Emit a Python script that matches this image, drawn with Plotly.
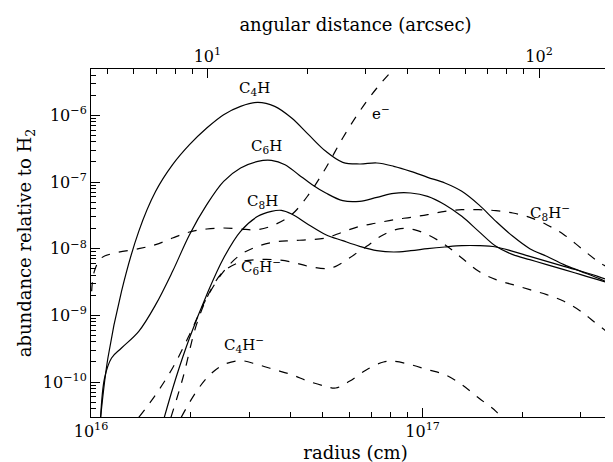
import plotly.graph_objects as go
import numpy as np

# log10 radius (cm) and log10 abundance
c4h_r = [16.029, 16.051, 16.092, 16.144, 16.195, 16.246, 16.297, 16.349, 16.400, 16.451, 16.503, 16.554,
         16.605, 16.656, 16.708, 16.759, 16.810, 16.862, 16.913, 16.964, 17.015, 17.067, 17.118, 17.169,
         17.221, 17.272, 17.323, 17.374, 17.426, 17.477, 17.528, 17.595]
c4h_a = [-10.53, -9.64, -8.64, -7.74, -7.14, -6.74, -6.44, -6.19, -5.99, -5.865, -5.805, -5.865,
         -6.04, -6.29, -6.54, -6.705, -6.73, -6.715, -6.765, -6.84, -6.93, -7.015, -7.14, -7.34,
         -7.59, -7.815, -8.0, -8.115, -8.24, -8.34, -8.44, -8.59]

c6h_r = [16.029, 16.041, 16.062, 16.092, 16.144, 16.195, 16.246, 16.297, 16.349, 16.400, 16.451, 16.503,
         16.544, 16.585, 16.626, 16.667, 16.708, 16.759, 16.810, 16.862, 16.913, 16.964, 17.015, 17.067,
         17.118, 17.169, 17.221, 17.272, 17.323, 17.374, 17.426, 17.477, 17.528, 17.595]
c6h_a = [-10.53, -9.94, -9.64, -9.49, -9.24, -8.84, -8.34, -7.79, -7.34, -6.99, -6.79, -6.69,
         -6.675, -6.74, -6.89, -7.04, -7.165, -7.28, -7.29, -7.23, -7.17, -7.165, -7.215, -7.34,
         -7.515, -7.74, -7.965, -8.09, -8.165, -8.24, -8.315, -8.39, -8.465, -8.565]

c8h_r = [16.221, 16.256, 16.297, 16.349, 16.400, 16.451, 16.503, 16.544, 16.574, 16.605, 16.656, 16.708,
         16.759, 16.810, 16.862, 16.913, 16.964, 17.015, 17.067, 17.118, 17.169, 17.221, 17.272, 17.323,
         17.426, 17.528, 17.595]
c8h_a = [-10.53, -9.94, -9.34, -8.69, -8.14, -7.74, -7.515, -7.44, -7.425, -7.48, -7.64, -7.79,
         -7.88, -7.965, -8.03, -8.05, -8.03, -8.0, -7.975, -7.955, -7.955, -7.975, -8.04, -8.115,
         -8.265, -8.415, -8.54]

elec_r = [16.002, 16.010, 16.031, 16.072, 16.144, 16.195, 16.246, 16.297, 16.349, 16.400, 16.451, 16.503,
          16.554, 16.605, 16.656, 16.708, 16.759, 16.810, 16.862, 16.913]
elec_a = [-8.64, -8.34, -8.14, -8.065, -8.0, -7.94, -7.84, -7.75, -7.705, -7.69, -7.705, -7.715,
          -7.64, -7.49, -7.19, -6.79, -6.34, -5.94, -5.59, -5.305]

c8hm_r = [16.144, 16.195, 16.246, 16.297, 16.349, 16.400, 16.451, 16.503, 16.554, 16.605, 16.656, 16.708,
          16.759, 16.810, 16.862, 16.913, 16.964, 17.015, 17.067, 17.118, 17.169, 17.221, 17.272, 17.323,
          17.374, 17.426, 17.477, 17.528, 17.579, 17.595]
c8hm_a = [-10.53, -10.19, -9.79, -9.29, -8.74, -8.34, -8.09, -7.965, -7.9, -7.88, -7.865, -7.84,
          -7.75, -7.665, -7.615, -7.565, -7.53, -7.49, -7.44, -7.415, -7.415, -7.43, -7.465, -7.53,
          -7.64, -7.79, -7.99, -8.19, -8.34, -8.39]

c6hm_r = [16.241, 16.277, 16.318, 16.359, 16.400, 16.451, 16.503, 16.554, 16.605, 16.656, 16.708, 16.738,
          16.779, 16.831, 16.882, 16.933, 16.974, 17.015, 17.067, 17.118, 17.169, 17.221, 17.272, 17.323,
          17.374, 17.426, 17.477, 17.528, 17.595]
c6hm_a = [-10.53, -9.94, -9.14, -8.64, -8.34, -8.2, -8.165, -8.165, -8.2, -8.265, -8.3, -8.265,
          -8.14, -7.965, -7.79, -7.7, -7.715, -7.79, -7.94, -8.14, -8.34, -8.465, -8.54, -8.615,
          -8.69, -8.79, -8.94, -9.14, -9.39]

c4hm_r = [16.272, 16.318, 16.359, 16.400, 16.451, 16.503, 16.554, 16.605, 16.656, 16.708, 16.738, 16.779,
          16.831, 16.882, 16.913, 16.964, 17.015, 17.067, 17.118, 17.169, 17.221, 17.236]
c4hm_a = [-10.53, -10.14, -9.89, -9.74, -9.68, -9.74, -9.815, -9.89, -9.99, -10.065, -10.09, -9.99,
          -9.815, -9.7, -9.69, -9.74, -9.815, -9.89, -10.04, -10.24, -10.44, -10.53]

# label texts and positions (log10 r, log10 abundance)
labels = ["C<sub>4</sub>H", "C<sub>6</sub>H", "C<sub>8</sub>H", "e<sup>−</sup>",
          "C<sub>8</sub>H<sup>−</sup>", "C<sub>6</sub>H<sup>−</sup>", "C<sub>4</sub>H<sup>−</sup>"]
label_r = [16.492, 16.528, 16.518, 16.875, 17.385, 16.513, 16.462]
label_a = [-5.59, -6.465, -7.29, -5.965, -7.45, -8.265, -9.44]

series = [
    (c4h_r, c4h_a, 'solid'), (c6h_r, c6h_a, 'solid'), (c8h_r, c8h_a, 'solid'),
    (elec_r, elec_a, 'dash'), (c8hm_r, c8hm_a, 'dash'), (c6hm_r, c6hm_a, 'dash'), (c4hm_r, c4hm_a, 'dash'),
]

fig = go.Figure()
for r, a, dash in series:
    fig.add_trace(go.Scatter(
        x=10 ** np.array(r), y=10 ** np.array(a), mode='lines', line_shape='spline',
        line=dict(color='black', width=1.2, dash=dash), showlegend=False, hoverinfo='skip',
    ))

# invisible trace on the top axis (arcsec)
fig.add_trace(go.Scatter(x=[5, 150], y=[1e-8, 1e-8], xaxis='x2', mode='lines',
                         line=dict(width=0), showlegend=False, hoverinfo='skip'))

for t, r, a in zip(labels, label_r, label_a):
    fig.add_annotation(x=r, y=a, text=t, showarrow=False, font=dict(size=15, color='black'))

def minor_vals(lo, hi):
    return [np.log10(m * 10.0 ** d) for d in range(lo, hi) for m in range(2, 10)]

font = dict(family='DejaVu Serif, Liberation Serif, serif', size=15, color='black')
tickfont = dict(family='DejaVu Serif, Liberation Serif, serif', size=16, color='black')
fig.update_layout(
    width=613, height=462, margin=dict(l=83, r=1, t=61, b=53),
    plot_bgcolor='white', paper_bgcolor='white', font=font,
    xaxis=dict(type='log', range=[16, 17.595], showgrid=False, zeroline=False, automargin=False,
               showline=True, linecolor='black', linewidth=1, mirror=False,
               ticks='inside', ticklen=9, tickcolor='black', tickfont=tickfont,
               tickvals=[1e16, 1e17], ticktext=['10<sup>16</sup>', '10<sup>17</sup>'],
               minor=dict(ticks='inside', ticklen=5, tickcolor='black',
                          tickvals=[10 ** v for v in minor_vals(16, 18)]),
               title=dict(text='radius (cm)', standoff=6)),
    xaxis2=dict(type='log', range=[0.649, 2.244], overlaying='x', side='top', automargin=False,
                showgrid=False, zeroline=False, showline=True, linecolor='black', linewidth=1,
                ticks='inside', ticklen=9, tickcolor='black', tickfont=tickfont,
                tickvals=[10, 100], ticktext=['10<sup>1</sup>', '10<sup>2</sup>'],
                minor=dict(ticks='inside', ticklen=5, tickcolor='black',
                           tickvals=[10 ** v for v in minor_vals(0, 3)]),
                title=dict(text='angular distance (arcsec)', standoff=8)),
    yaxis=dict(type='log', range=[-10.525, -5.305], showgrid=False, zeroline=False, automargin=False,
               showline=True, linecolor='black', linewidth=1, mirror='ticks',
               ticks='inside', ticklen=9, tickcolor='black', tickfont=tickfont,
               tickvals=[1e-10, 1e-9, 1e-8, 1e-7, 1e-6],
               ticktext=['10<sup>−10</sup>', '10<sup>−9</sup>', '10<sup>−8</sup>',
                         '10<sup>−7</sup>', '10<sup>−6</sup>'],
               minor=dict(ticks='inside', ticklen=5, tickcolor='black',
                          tickvals=[10 ** v for v in minor_vals(-11, -5)]),
               title=dict(text='abundance relative to H<sub>2</sub>', standoff=6)),
)
fig.add_shape(type='line', xref='paper', yref='paper', x0=1, x1=1, y0=0, y1=1,
              line=dict(color='black', width=1))

fig.write_html("out.html")
